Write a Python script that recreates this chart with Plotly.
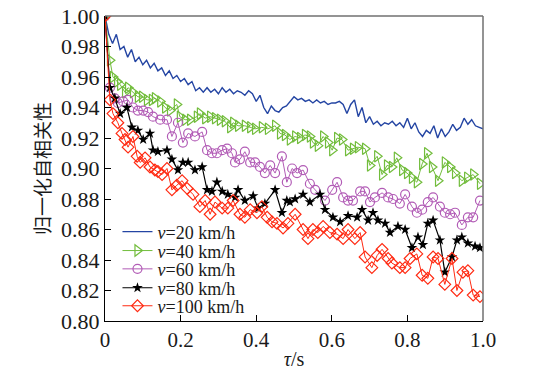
import plotly.graph_objects as go

# ---------------- data ----------------
blue_t = [i / 100 for i in range(101)]
blue_v = [1.000, 0.988, 0.982, 0.988, 0.978, 0.980, 0.973, 0.978, 0.970, 0.973,
          0.968, 0.971, 0.966, 0.969, 0.964, 0.966, 0.961, 0.964, 0.959, 0.961,
          0.957, 0.959, 0.955, 0.957, 0.951, 0.953, 0.950, 0.953, 0.950, 0.952,
          0.949, 0.953, 0.950, 0.952, 0.949, 0.951, 0.950, 0.948, 0.951, 0.949,
          0.944, 0.948, 0.940, 0.936, 0.941, 0.938, 0.937, 0.940, 0.941, 0.944,
          0.947, 0.945, 0.946, 0.944, 0.945, 0.943, 0.945, 0.943, 0.944, 0.942,
          0.943, 0.943, 0.944, 0.942, 0.936, 0.942, 0.945, 0.934, 0.940, 0.930,
          0.934, 0.929, 0.931, 0.928, 0.930, 0.929, 0.931, 0.928, 0.930, 0.927,
          0.933, 0.926, 0.930, 0.924, 0.921, 0.925, 0.923, 0.928, 0.920, 0.926,
          0.921, 0.924, 0.929, 0.925, 0.927, 0.933, 0.929, 0.932, 0.928, 0.927,
          0.926]

green_t = [0, 0.013, 0.021, 0.032, 0.040, 0.053, 0.061, 0.074, 0.087, 0.098,
           0.111, 0.124, 0.132, 0.146, 0.159, 0.172, 0.190, 0.198, 0.212, 0.225,
           0.243, 0.251, 0.265, 0.278, 0.291, 0.304, 0.317, 0.331, 0.339, 0.352,
           0.370, 0.384, 0.397, 0.415, 0.431, 0.450, 0.463, 0.476, 0.489, 0.503,
           0.516, 0.529, 0.542, 0.550, 0.563, 0.577, 0.590, 0.601, 0.614, 0.627,
           0.643, 0.656, 0.669, 0.688, 0.701, 0.720, 0.733, 0.746, 0.759, 0.772,
           0.786, 0.799, 0.812, 0.825, 0.839, 0.852, 0.865, 0.881, 0.899, 0.913,
           0.926, 0.944, 0.958, 0.974, 0.992]
green_v = [1.000, 0.971, 0.960, 0.957, 0.955, 0.950, 0.953, 0.950, 0.947, 0.947,
           0.945, 0.945, 0.946, 0.944, 0.940, 0.938, 0.942, 0.934, 0.932, 0.932,
           0.934, 0.936, 0.933, 0.934, 0.933, 0.932, 0.931, 0.927, 0.930, 0.928,
           0.928, 0.927, 0.926, 0.927, 0.926, 0.928, 0.923, 0.922, 0.919, 0.921,
           0.920, 0.922, 0.921, 0.917, 0.915, 0.921, 0.917, 0.912, 0.920, 0.919,
           0.912, 0.913, 0.914, 0.913, 0.902, 0.908, 0.896, 0.902, 0.901, 0.907,
           0.899, 0.897, 0.894, 0.891, 0.903, 0.910, 0.901, 0.892, 0.904, 0.901,
           0.897, 0.892, 0.894, 0.896, 0.890]

purple_t = [0, 0.013, 0.026, 0.034, 0.048, 0.061, 0.074, 0.087, 0.101, 0.114,
            0.127, 0.146, 0.164, 0.177, 0.193, 0.206, 0.220, 0.238, 0.257, 0.270,
            0.283, 0.296, 0.310, 0.323, 0.336, 0.344, 0.357, 0.370, 0.384, 0.397,
            0.410, 0.423, 0.437, 0.450, 0.468, 0.481, 0.495, 0.508, 0.524, 0.542,
            0.556, 0.582, 0.601, 0.614, 0.630, 0.643, 0.656, 0.675, 0.688, 0.701,
            0.714, 0.733, 0.749, 0.762, 0.780, 0.794, 0.812, 0.825, 0.839, 0.854,
            0.868, 0.886, 0.899, 0.913, 0.926, 0.944, 0.960, 0.974, 0.992]
purple_v = [1.000, 0.953, 0.946, 0.943, 0.944, 0.945, 0.940, 0.938, 0.938, 0.937,
            0.934, 0.932, 0.932, 0.921, 0.930, 0.917, 0.923, 0.921, 0.924, 0.912,
            0.910, 0.910, 0.912, 0.913, 0.910, 0.904, 0.906, 0.911, 0.904, 0.904,
            0.901, 0.897, 0.902, 0.897, 0.908, 0.891, 0.900, 0.897, 0.899, 0.890,
            0.886, 0.879, 0.886, 0.891, 0.881, 0.879, 0.879, 0.885, 0.885, 0.878,
            0.881, 0.884, 0.881, 0.880, 0.877, 0.883, 0.875, 0.871, 0.873, 0.878,
            0.881, 0.875, 0.871, 0.870, 0.871, 0.863, 0.868, 0.868, 0.879]

black_t = [0, 0.013, 0.026, 0.040, 0.058, 0.071, 0.087, 0.101, 0.119, 0.127,
           0.140, 0.164, 0.177, 0.193, 0.206, 0.220, 0.238, 0.257, 0.270, 0.283,
           0.296, 0.310, 0.325, 0.344, 0.352, 0.370, 0.392, 0.405, 0.423, 0.450,
           0.468, 0.481, 0.489, 0.503, 0.524, 0.542, 0.569, 0.582, 0.603, 0.622,
           0.643, 0.667, 0.680, 0.696, 0.709, 0.722, 0.741, 0.754, 0.775, 0.794,
           0.812, 0.828, 0.841, 0.854, 0.868, 0.886, 0.899, 0.918, 0.931, 0.944,
           0.960, 0.979, 0.992]
black_v = [1.000, 0.953, 0.946, 0.936, 0.940, 0.927, 0.925, 0.919, 0.923, 0.912,
           0.911, 0.912, 0.906, 0.899, 0.904, 0.904, 0.899, 0.901, 0.886, 0.885,
           0.891, 0.885, 0.883, 0.881, 0.886, 0.879, 0.882, 0.874, 0.877, 0.886,
           0.871, 0.879, 0.878, 0.880, 0.883, 0.878, 0.883, 0.873, 0.868, 0.865,
           0.869, 0.868, 0.873, 0.866, 0.871, 0.866, 0.864, 0.858, 0.862, 0.860,
           0.848, 0.855, 0.850, 0.864, 0.866, 0.853, 0.832, 0.842, 0.853, 0.855,
           0.851, 0.849, 0.848]

red_t = [0, 0.013, 0.021, 0.034, 0.045, 0.053, 0.061, 0.074, 0.085, 0.093,
         0.106, 0.119, 0.132, 0.140, 0.151, 0.164, 0.177, 0.190, 0.204, 0.217,
         0.233, 0.251, 0.265, 0.278, 0.291, 0.310, 0.325, 0.339, 0.357, 0.370,
         0.384, 0.402, 0.415, 0.429, 0.442, 0.455, 0.471, 0.484, 0.503, 0.524,
         0.537, 0.550, 0.563, 0.577, 0.595, 0.614, 0.630, 0.643, 0.661, 0.675,
         0.688, 0.706, 0.720, 0.733, 0.749, 0.759, 0.780, 0.794, 0.807, 0.825,
         0.839, 0.854, 0.868, 0.881, 0.899, 0.918, 0.931, 0.947, 0.960, 0.974,
         0.992]
red_v = [1.000, 0.945, 0.936, 0.930, 0.923, 0.919, 0.914, 0.921, 0.908, 0.904,
         0.907, 0.901, 0.899, 0.898, 0.896, 0.900, 0.886, 0.889, 0.892, 0.887,
         0.883, 0.875, 0.879, 0.870, 0.878, 0.874, 0.874, 0.879, 0.870, 0.868,
         0.873, 0.871, 0.875, 0.868, 0.865, 0.864, 0.861, 0.864, 0.870, 0.860,
         0.854, 0.860, 0.858, 0.862, 0.858, 0.857, 0.854, 0.860, 0.854, 0.858,
         0.842, 0.835, 0.843, 0.847, 0.841, 0.838, 0.835, 0.835, 0.841, 0.844,
         0.830, 0.828, 0.842, 0.841, 0.824, 0.841, 0.820, 0.832, 0.833, 0.817,
         0.816]

names = ["<i>v</i>=20 km/h", "<i>v</i>=40 km/h", "<i>v</i>=60 km/h",
         "<i>v</i>=80 km/h", "<i>v</i>=100 km/h"]

x_ticks = [0, 0.2, 0.4, 0.6, 0.8, 1.0]
x_ticktext = ["0", "0.2", "0.4", "0.6", "0.8", "1.0"]
y_ticks = [0.80, 0.82, 0.84, 0.86, 0.88, 0.90, 0.92, 0.94, 0.96, 0.98, 1.00]

# ---------------- figure ----------------
SERIF = "Liberation Serif, Times New Roman, serif"
fig = go.Figure()

fig.add_trace(go.Scatter(x=blue_t, y=blue_v, mode="lines", name=names[0],
                         legend="legend",
                         line=dict(color="#2445a3", width=1.4)))
fig.add_trace(go.Scatter(x=green_t, y=green_v, mode="lines+markers", name=names[1],
                         legend="legend2",
                         line=dict(color="#72bd3c", width=1),
                         marker=dict(symbol="triangle-right-open", size=10,
                                     color="#72bd3c", line=dict(width=1.2))))
fig.add_trace(go.Scatter(x=purple_t, y=purple_v, mode="lines+markers", name=names[2],
                         legend="legend3",
                         line=dict(color="#b25cb6", width=1),
                         marker=dict(symbol="circle-open", size=9,
                                     color="#b25cb6", line=dict(width=1.2))))
fig.add_trace(go.Scatter(x=black_t, y=black_v, mode="lines+markers", name=names[3],
                         legend="legend4",
                         line=dict(color="#000000", width=1.2),
                         marker=dict(symbol="star", size=8, color="#000000")))
fig.add_trace(go.Scatter(x=red_t, y=red_v, mode="lines+markers", name=names[4],
                         legend="legend5",
                         line=dict(color="#ff2a12", width=1),
                         marker=dict(symbol="diamond-open", size=9,
                                     color="#ff2a12", line=dict(width=1.2))))

legend_y = [0.292, 0.230, 0.170, 0.108, 0.049]   # paper positions of the legend rows
def leg(yv):
    return dict(x=0.033, y=yv, xanchor="left", yanchor="middle",
                bgcolor="rgba(0,0,0,0)", borderwidth=0,
                font=dict(family=SERIF, size=18, color="#1a1a1a"),
                itemwidth=30)

fig.update_layout(
    width=537, height=373,
    margin=dict(l=105, r=54, t=16, b=52, autoexpand=False),
    paper_bgcolor="white", plot_bgcolor="white",
    showlegend=True,
    hovermode=False,
    font=dict(family=SERIF, size=19, color="#1a1a1a"),
    legend=leg(legend_y[0]), legend2=leg(legend_y[1]), legend3=leg(legend_y[2]),
    legend4=leg(legend_y[3]), legend5=leg(legend_y[4]),
)
fig.update_xaxes(range=[0, 1.0], tickvals=x_ticks, ticktext=x_ticktext,
                 automargin=False,
                 showline=True, linecolor="black", linewidth=1,
                 ticks="inside", ticklen=6, tickcolor="black",
                 showgrid=False, zeroline=False,
                 tickfont=dict(family=SERIF, size=21),
                 title=dict(text="<i>τ</i>/s", standoff=0,
                            font=dict(family=SERIF, size=20)))
fig.update_yaxes(range=[0.80, 1.00], tickvals=y_ticks, tickformat=".2f",
                 automargin=False,
                 showline=True, linecolor="black", linewidth=1,
                 ticks="inside", ticklen=6, tickcolor="black",
                 showgrid=False, zeroline=False,
                 tickfont=dict(family=SERIF, size=22),
                 title=dict(text="归一化自相关性", standoff=5,
                            font=dict(family="Noto Sans CJK SC", size=19)))
# grey top and right frame edges
fig.add_shape(type="line", xref="paper", yref="paper", x0=0, x1=1, y0=1, y1=1,
              line=dict(color="#707070", width=1.5))
fig.add_shape(type="line", xref="paper", yref="paper", x0=1, x1=1, y0=0, y1=1,
              line=dict(color="#707070", width=1.5))

fig.write_html("out.html", config={"displayModeBar": False},
               post_script="document.body.style.margin='0';document.body.style.padding='0';")
